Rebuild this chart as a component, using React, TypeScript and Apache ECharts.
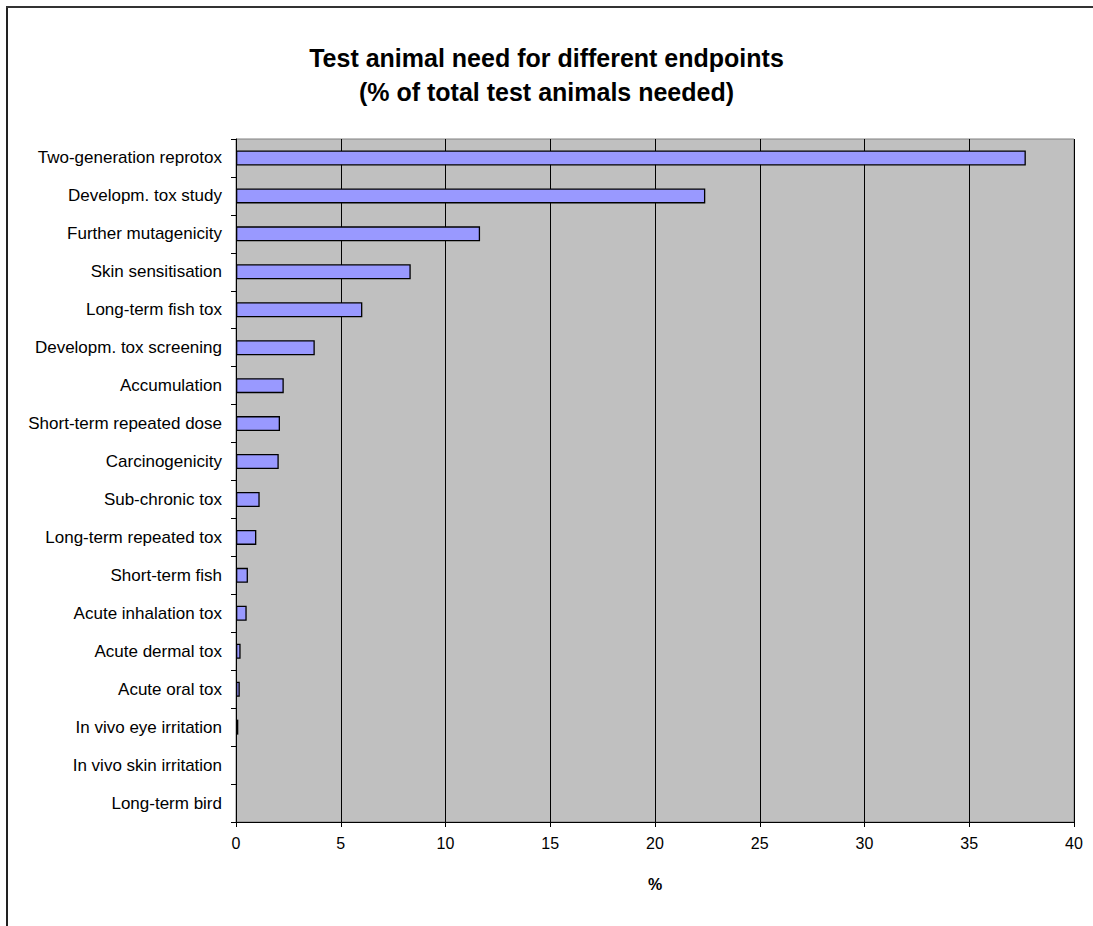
import React, { useEffect, useRef } from "react";
import * as echarts from "echarts";

const categories = [
  "Two-generation reprotox",
  "Developm. tox study",
  "Further mutagenicity",
  "Skin sensitisation",
  "Long-term fish tox",
  "Developm. tox screening",
  "Accumulation",
  "Short-term repeated dose",
  "Carcinogenicity",
  "Sub-chronic tox",
  "Long-term repeated tox",
  "Short-term fish",
  "Acute inhalation tox",
  "Acute dermal tox",
  "Acute oral tox",
  "In vivo eye irritation",
  "In vivo skin irritation",
  "Long-term bird",
];

const values = [
  37.7, 22.4, 11.65, 8.34, 6.03, 3.76, 2.28, 2.1, 2.04, 1.13, 0.97, 0.57, 0.51,
  0.22, 0.18, 0.11, 0, 0,
];

const titleText = "Test animal need for different endpoints\n(% of total test animals needed)";
const xAxisName = "%";

const FONT = '"Liberation Sans", Arial, sans-serif';

export default function App() {
  const ref = useRef<HTMLDivElement>(null);
  useEffect(() => {
    if (!ref.current) return;
    const chart = echarts.init(ref.current, undefined, { renderer: "svg" });
    chart.setOption({
      animation: false,
      backgroundColor: "#ffffff",
      textStyle: { fontFamily: FONT },
      title: {
        text: titleText,
        left: "center",
        top: 36,
        textStyle: {
          fontFamily: FONT,
          fontSize: 25,
          fontWeight: "bold",
          color: "#000",
          lineHeight: 34,
        },
      },
      grid: {
        left: 236,
        right: 19,
        top: 139,
        bottom: 104,
        show: true,
        backgroundColor: "#C0C0C0",
        borderColor: "#808080",
        borderWidth: 1,
      },
      xAxis: {
        type: "value",
        min: 0,
        max: 40,
        interval: 5,
        name: xAxisName,
        nameLocation: "middle",
        nameGap: 54,
        nameTextStyle: { fontFamily: FONT, fontSize: 16, fontWeight: "bold", color: "#000" },
        axisLine: { show: true, lineStyle: { color: "#000", width: 1 } },
        axisTick: { show: true, length: 5, lineStyle: { color: "#000" } },
        axisLabel: { fontFamily: FONT, fontSize: 16, color: "#000", margin: 13 },
        splitLine: { show: true, lineStyle: { color: "#000", width: 1 } },
      },
      yAxis: {
        type: "category",
        data: categories,
        inverse: true,
        axisLine: { show: true, lineStyle: { color: "#000", width: 1 } },
        axisTick: { show: true, length: 5, interval: 0, lineStyle: { color: "#000" } },
        axisLabel: { fontFamily: FONT, fontSize: 17, color: "#000", margin: 14, interval: 0 },
        splitLine: { show: false },
      },
      series: [
        {
          type: "bar",
          data: values.map((v) => ({
            value: v,
            itemStyle: { borderWidth: v === 0 ? 0 : 1.3 },
          })),
          barWidth: 15,
          itemStyle: { color: "#9999FF", borderColor: "#000", borderWidth: 1.3 },
        },
      ],
      graphic: [
        {
          type: "line",
          shape: { x1: 7, y1: 7, x2: 7, y2: 926 },
          style: { stroke: "#222", lineWidth: 2 },
        },
        {
          type: "line",
          shape: { x1: 6, y1: 7, x2: 1093, y2: 7 },
          style: { stroke: "#333", lineWidth: 2 },
        },
      ],
    });
    return () => chart.dispose();
  }, []);
  return (
    <div
      ref={ref}
      style={{ position: "fixed", left: 0, top: 0, width: 1093, height: 926 }}
    />
  );
}
